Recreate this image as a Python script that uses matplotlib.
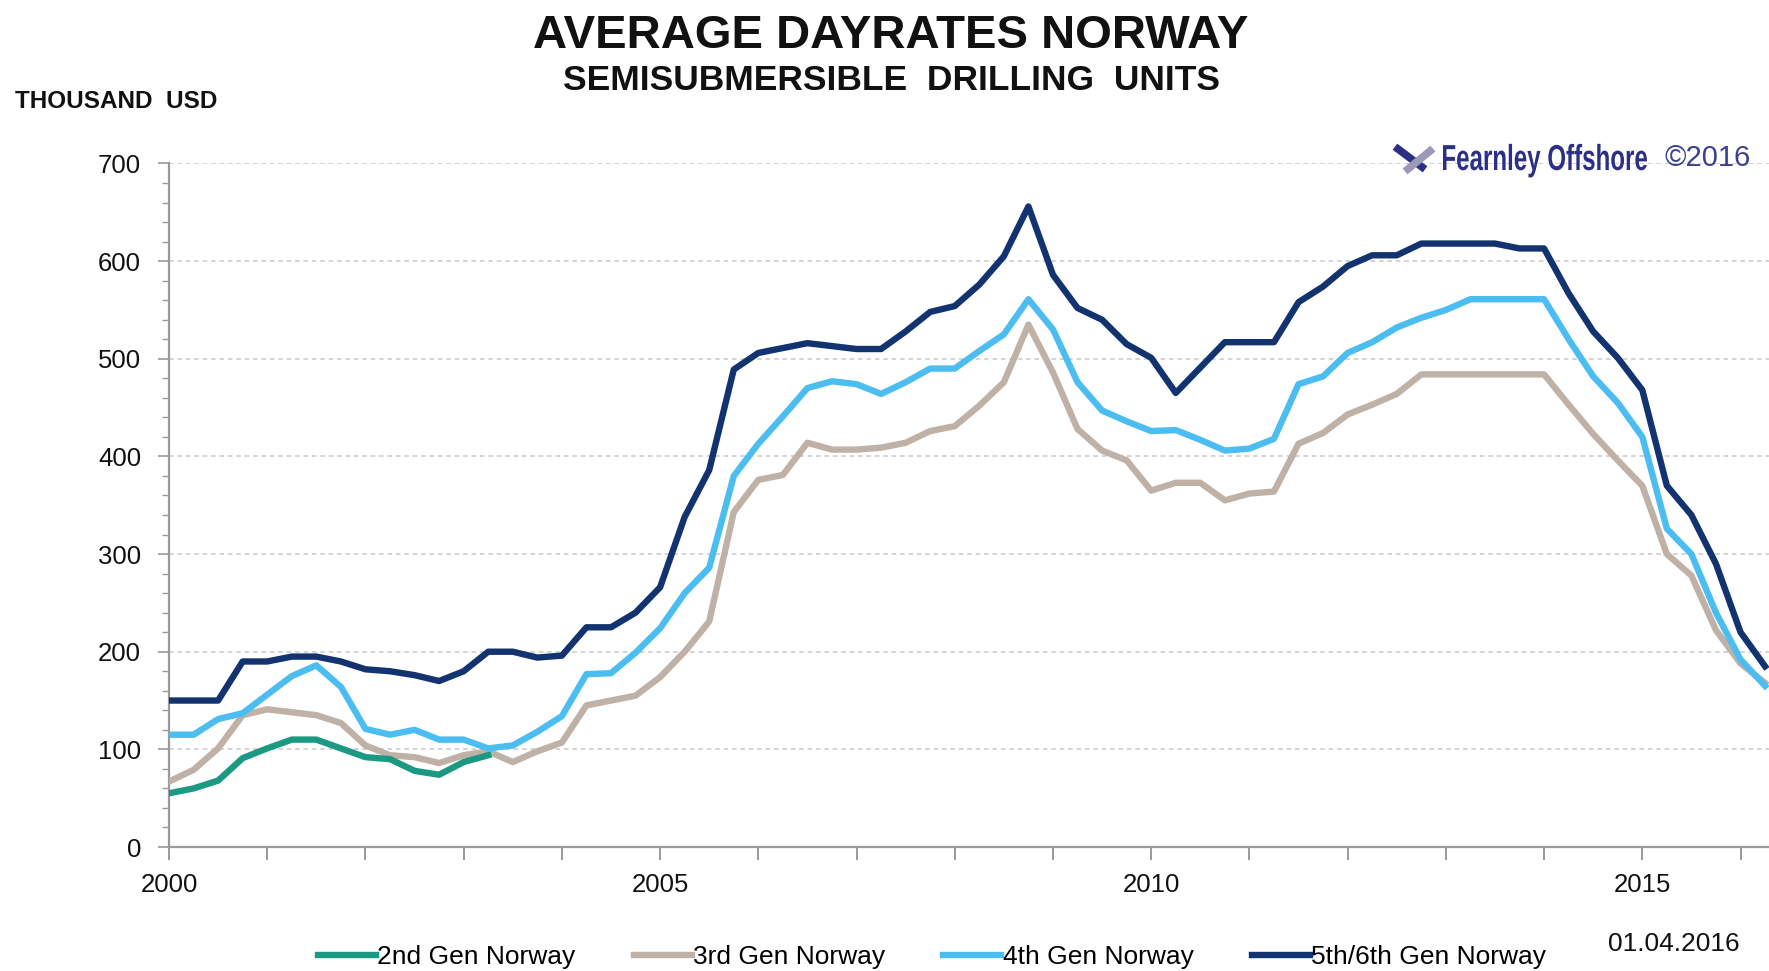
import numpy as np
import matplotlib.pyplot as plt
from matplotlib import font_manager
from matplotlib.ticker import MultipleLocator
from matplotlib.lines import Line2D
from matplotlib.textpath import TextPath
from matplotlib.patches import PathPatch
from matplotlib.transforms import Affine2D

# =========================
# DATA (quarterly, thousand USD)
# =========================
quarters = np.arange(2000, 2016.26, 0.25)

gen2 = [55, 60, 68, 91, 101, 110, 110, 101, 92, 90, 78, 74, 87, 94]

gen3 = [67, 79, 101, 135, 141, 138, 135, 127, 104, 94, 92, 86, 94, 98, 87, 98,
        107, 145, 150, 155, 174, 200, 231, 343, 376, 381, 414, 407, 407, 409, 414, 426,
        431, 452, 476, 535, 486, 428, 406, 396, 365, 373, 373, 355, 362, 364, 413, 424,
        443, 453, 464, 484, 484, 484, 484, 484, 484, 453, 423, 396, 370, 300, 278, 222,
        188, 168]

gen4 = [115, 115, 131, 137, 156, 175, 186, 164, 121, 115, 120, 110, 110, 101, 104, 118,
        134, 177, 178, 199, 224, 260, 286, 380, 413, 441, 470, 477, 474, 464, 476, 490,
        490, 508, 525, 561, 530, 476, 447, 436, 426, 427, 417, 406, 408, 418, 474, 482,
        506, 517, 532, 542, 550, 561, 561, 561, 561, 520, 482, 455, 420, 326, 300, 240,
        192, 165]

gen5 = [150, 150, 150, 190, 190, 195, 195, 190, 182, 180, 176, 170, 180, 200, 200, 194,
        196, 225, 225, 240, 266, 338, 386, 489, 506, 511, 516, 513, 510, 510, 528, 548,
        554, 576, 605, 656, 586, 552, 540, 515, 501, 465, 491, 517, 517, 517, 558, 574,
        595, 606, 606, 618, 618, 618, 618, 613, 613, 567, 528, 501, 468, 370, 340, 290,
        220, 185]

labels = ["2nd Gen Norway", "3rd Gen Norway", "4th Gen Norway", "5th/6th Gen Norway"]
colors = ["#1b9983", "#bfb1a6", "#4cbdf0", "#12336f"]

# =========================
# FONTS
# =========================
names = {f.name for f in font_manager.fontManager.ttflist}
base_font = "Liberation Sans" if "Liberation Sans" in names else "DejaVu Sans"
plt.rcParams["font.family"] = [base_font, "DejaVu Sans"]

W, H = 1769, 971
DPI = 100
fig = plt.figure(figsize=(W / DPI, H / DPI), dpi=DPI)
ax = fig.add_axes([169 / W, 1 - 847 / H, 1 - 169 / W, (847 - 163.5) / H])

# =========================
# LINES
# =========================
lw = 4.6
ax.plot(quarters[:len(gen3)], gen3, color=colors[1], lw=lw, solid_joinstyle="round", zorder=3)
ax.plot(quarters[:len(gen2)], gen2, color=colors[0], lw=lw, solid_joinstyle="round", zorder=4)
ax.plot(quarters[:len(gen4)], gen4, color=colors[2], lw=lw, solid_joinstyle="round", zorder=5)
ax.plot(quarters[:len(gen5)], gen5, color=colors[3], lw=lw, solid_joinstyle="round", zorder=6)

# =========================
# AXES STYLE
# =========================
ax.set_xlim(2000, 2016.29)
ax.set_ylim(0, 700)
ax.yaxis.set_major_locator(MultipleLocator(100))
ax.yaxis.set_minor_locator(MultipleLocator(20))
ax.set_xticks(np.arange(2000, 2017, 1))
ax.set_xticklabels([str(y) if y % 5 == 0 else "" for y in range(2000, 2017)])

for s in ["top", "right"]:
    ax.spines[s].set_visible(False)
for s in ["left", "bottom"]:
    ax.spines[s].set_color("#9a9a9a")
    ax.spines[s].set_linewidth(1.6)

ax.tick_params(axis="y", which="major", length=8, width=1.2, color="#9a9a9a",
               labelsize=18.5, pad=12, labelcolor="#111111")
ax.tick_params(axis="y", which="minor", length=5, width=1.0, color="#9a9a9a")
ax.tick_params(axis="x", which="major", length=9, width=1.4, color="#9a9a9a",
               labelsize=18.5, pad=10, labelcolor="#111111")

ax.grid(axis="y", which="major", color="#c9c9c9", linestyle=(0, (3, 2.5)), linewidth=1.1)
ax.set_axisbelow(True)

# =========================
# TEXTS
# =========================
fig.text(891 / W, 1 - 36 / H, "AVERAGE DAYRATES NORWAY", ha="center", va="center",
         fontsize=34, fontweight="bold", color="#111111")
fig.text(891 / W, 1 - 80 / H, "SEMISUBMERSIBLE  DRILLING  UNITS", ha="center", va="center",
         fontsize=25.5, fontweight="bold", color="#111111")
fig.text(15 / W, 1 - 101 / H, "THOUSAND  USD", ha="left", va="center",
         fontsize=17.5, fontweight="bold", color="#111111")

# condensed "Fearnley Offshore" logo text, squeezed to the reference width
tp = TextPath((0, 0), "Fearnley Offshore", size=26,
              prop=font_manager.FontProperties(family=base_font, weight="bold"))
ext = tp.get_extents()
target_w_pts = 204 / DPI * 72
sx = target_w_pts / ext.width
tr = (Affine2D().translate(-ext.x0, 0).scale(sx / 72, 1 / 72)
      .translate(1443 / DPI, (H - 170) / DPI) + fig.dpi_scale_trans)
fig.add_artist(PathPatch(tp, transform=tr, facecolor="#2c2f86", edgecolor="none"))

fig.text(1751 / W, 1 - 158 / H, "\u00a92016", ha="right", va="center",
         fontsize=21, color="#3b4090")
# little logo mark
fig.add_artist(Line2D([1398 / W, 1422 / W], [1 - 149 / H, 1 - 167 / H],
                      transform=fig.transFigure, color="#2c2f86", lw=5.5))
fig.add_artist(Line2D([1408 / W, 1430 / W], [1 - 169 / H, 1 - 151 / H],
                      transform=fig.transFigure, color="#9a9ab8", lw=5.5))

fig.text(1674 / W, 1 - 944 / H, "01.04.2016", ha="center", va="center",
         fontsize=19, color="#111111")

handles = [Line2D([], [], color=c, lw=lw) for c in colors]
fig.legend(handles, labels, loc="center", bbox_to_anchor=(932 / W, 1 - 957 / H),
           ncol=4, frameon=False, fontsize=19, handlelength=2.2, handletextpad=0.05,
           columnspacing=2.2)

fig.savefig("out.png", dpi=DPI)
